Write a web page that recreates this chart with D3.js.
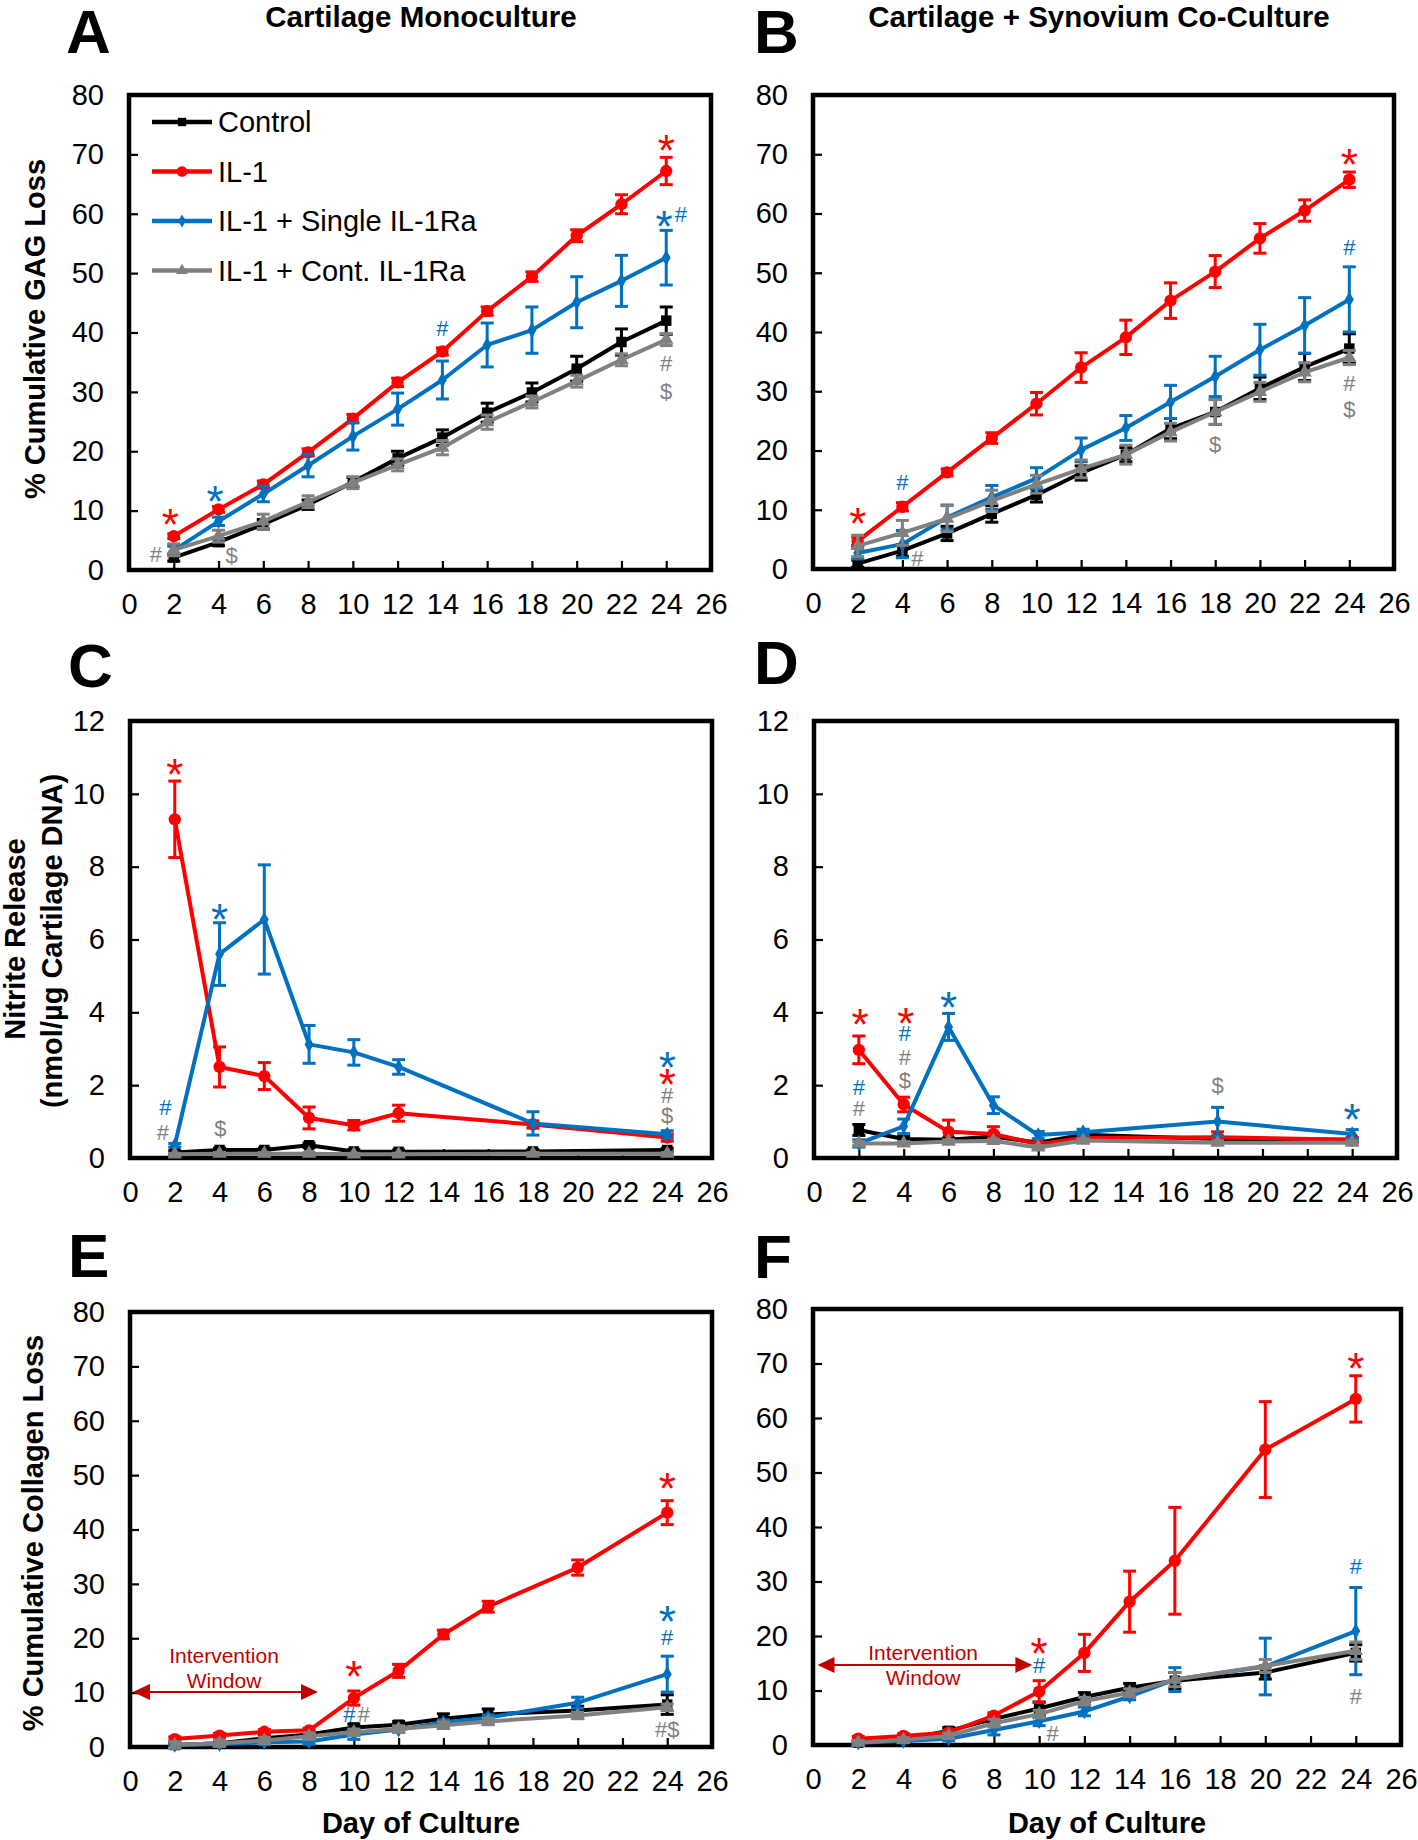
<!DOCTYPE html>
<html><head><meta charset="utf-8">
<script src="https://cdn.jsdelivr.net/npm/d3@7"></script>
<style>body{margin:0;background:#fff}</style>
</head><body><svg id="chart" width="1418" height="1840"></svg>
<script>
// ---------------- DATA ----------------
const seriesNames = ["Control", "IL-1", "IL-1 + Single IL-1Ra", "IL-1 + Cont. IL-1Ra"];
const seriesKeys = ["ctrl", "il1", "single", "cont"];
const xTicks = [0,2,4,6,8,10,12,14,16,18,20,22,24,26];
const yTicksPct = [0,10,20,30,40,50,60,70,80];
const yTicksNitrite = [0,2,4,6,8,10,12];

const daysGAG = [2,4,6,8,10,12,14,16,18,20,22,24];
const daysNitrite = [2,4,6,8,10,12,18,24];
const daysCollagen = [2,4,6,8,10,12,14,16,20,24];

// A: GAG loss, cartilage monoculture
const ctrlA = [2.1,4.7,7.7,11.0,14.8,18.8,22.3,26.5,29.9,33.9,38.4,42.0];
const ctrlAErr = [0.6,0.6,0.8,0.8,0.8,1.2,1.3,1.6,1.6,2.1,2.2,2.3];
const il1A = [5.7,10.2,14.4,19.8,25.5,31.6,36.8,43.6,49.4,56.3,61.6,67.2];
const il1AErr = [0.4,0.5,0.6,0.6,0.7,0.7,0.6,0.7,0.8,1.0,1.6,2.3];
const singleA = [3.3,8.2,12.8,17.6,22.5,27.1,32.0,37.9,40.4,45.1,48.7,52.6];
const singleAErr = [0.7,0.7,1.3,1.9,2.3,2.7,3.2,3.7,3.9,4.3,4.3,4.6];
const contA = [3.4,5.7,8.2,11.5,14.7,17.7,20.6,24.9,28.3,31.8,35.4,38.8];
const contAErr = [1.0,1.0,1.2,1.0,1.0,1.0,1.2,1.2,1.0,1.0,1.0,1.0];

// B: GAG loss, co-culture
const ctrlB = [0.9,3.1,6.0,9.3,12.5,16.2,19.3,23.7,26.5,30.5,34.1,37.2];
const ctrlBErr = [0.6,1.0,1.2,1.4,1.2,1.2,1.2,1.7,2.1,1.9,2.3,2.5];
const il1B = [4.7,10.5,16.3,22.1,27.9,34.0,39.1,45.3,50.2,55.8,60.5,65.7];
const il1BErr = [0.7,0.7,0.6,0.9,1.9,2.5,2.9,3.0,2.7,2.5,1.8,1.3];
const singleB = [2.7,4.2,8.7,12.1,15.3,20.1,23.8,28.2,32.5,37.0,41.1,45.5];
const singleBErr = [1.0,2.3,2.1,2.0,1.8,2.0,2.1,2.8,3.4,4.3,4.7,5.5];
const contB = [3.9,6.1,8.5,11.5,14.3,16.9,19.3,23.1,26.5,29.9,33.2,35.7];
const contBErr = [1.8,2.1,2.2,1.8,1.5,1.5,1.6,1.5,2.1,1.6,1.6,1.2];

// C: nitrite, monoculture
const ctrlC = [0.15,0.22,0.22,0.35,0.18,0.17,0.18,0.22];
const ctrlCErr = [0.05,0.05,0.05,0.06,0.05,0.05,0.05,0.05];
const il1C = [9.3,2.5,2.25,1.1,0.9,1.23,0.92,0.56];
const il1CErr = [1.05,0.55,0.37,0.3,0.13,0.22,0.1,0.1];
const singleC = [0.35,5.6,6.55,3.12,2.9,2.5,0.95,0.65];
const singleCErr = [0.05,0.86,1.5,0.52,0.35,0.2,0.32,0.1];
const contC = [0.1,0.12,0.12,0.12,0.1,0.1,0.12,0.12];
const contCErr = [0.03,0.03,0.03,0.03,0.03,0.03,0.03,0.03];

// D: nitrite, co-culture
const ctrlD = [0.77,0.52,0.5,0.59,0.42,0.64,0.52,0.5];
const ctrlDErr = [0.15,0.08,0.05,0.08,0.05,0.05,0.05,0.05];
const il1D = [2.97,1.47,0.72,0.66,0.38,0.55,0.57,0.5];
const il1DErr = [0.38,0.2,0.32,0.2,0.05,0.05,0.15,0.05];
const singleD = [0.4,0.87,3.6,1.45,0.63,0.71,1.0,0.66];
const singleDErr = [0.1,0.2,0.37,0.23,0.1,0.08,0.39,0.12];
const contD = [0.4,0.4,0.45,0.47,0.29,0.48,0.42,0.42];
const contDErr = [0.05,0.05,0.05,0.05,0.05,0.05,0.05,0.05];

// E: collagen loss, monoculture
const ctrlE = [0.36,0.7,1.6,2.3,3.6,4.1,5.2,6.0,6.7,7.8];
const ctrlEErr = [0.4,0.4,0.5,0.5,0.6,0.6,0.9,1.0,0.8,1.8];
const il1E = [1.46,2.1,2.8,3.06,9.0,14.0,20.7,25.8,33.0,43.1];
const il1EErr = [0.4,0.4,0.4,0.4,1.3,1.2,0.8,1.0,1.4,2.2];
const singleE = [0.36,0.5,0.87,1.0,2.3,3.2,4.5,5.4,8.15,13.4];
const singleEErr = [0.3,0.3,0.4,0.5,0.9,0.5,0.5,0.5,1.0,3.3];
const contE = [0.36,0.7,1.2,2.0,2.7,3.3,4.0,4.7,5.8,7.3];
const contEErr = [0.6,0.6,0.6,0.6,0.6,0.6,0.6,0.6,0.6,0.6];

// F: collagen loss, co-culture
const ctrlF = [0.43,0.94,2.6,4.8,6.7,8.8,10.5,11.8,13.3,16.9];
const ctrlFErr = [0.4,0.4,0.6,0.6,1.2,0.8,0.8,1.5,1.2,1.5];
const il1F = [1.16,1.67,2.3,5.4,9.8,16.9,26.3,33.8,54.2,63.5];
const il1FErr = [0.4,0.4,0.4,0.5,2.0,3.4,5.6,9.8,8.8,4.25];
const singleF = [0.43,0.72,1.16,2.75,4.35,6.16,8.9,12.0,14.4,20.9];
const singleFErr = [0.3,0.3,0.4,0.9,0.8,0.8,0.6,2.2,5.2,8.0];
const contF = [0.43,0.94,1.67,4.0,5.66,8.05,9.6,12.0,14.5,17.3];
const contFErr = [0.4,0.4,0.5,0.7,0.7,0.7,0.7,1.3,1.2,1.6];

// significance annotations: [day, value, symbol, series]
const annA = [[1.85,9.35,"*","il1"],[3.85,13.3,"*","single"],[1.2,2.6,"#","cont"],[4.58,2.45,"$","cont"],
  [14,40.8,"#","single"],[24,72.4,"*","il1"],[23.9,59.5,"*","single"],[24.65,60.0,"#","single"],
  [24,34.8,"#","cont"],[24,30.1,"$","cont"]];
const annB = [[2,9.3,"*","il1"],[4,14.7,"#","single"],[4.67,1.9,"#","cont"],[18,21.0,"$","cont"],
  [24,70.0,"*","il1"],[24,54.3,"#","single"],[24,31.3,"#","cont"],[24,27.0,"$","cont"]];
const annC = [[2,10.8,"*","il1"],[1.58,1.4,"#","single"],[1.47,0.71,"#","cont"],[4.04,0.82,"$","cont"],
  [4,6.83,"*","single"],[24,2.77,"*","single"],[24,2.28,"*","il1"],[24,1.73,"#","cont"],[24,1.18,"$","cont"]];
const annD = [[2.05,3.93,"*","il1"],[2,1.95,"#","single"],[2,1.37,"#","cont"],[4.1,3.98,"*","il1"],
  [4.05,3.43,"#","single"],[4.05,2.77,"#","cont"],[4.05,2.14,"$","cont"],[6,4.42,"*","single"],
  [18,2.0,"$","cont"],[24,1.32,"*","single"]];
const annE = [[10,14.9,"*","il1"],[9.8,6.1,"#","single"],[10.45,6.1,"#","cont"],[24,49.3,"*","il1"],
  [24,25.0,"*","single"],[24,20.2,"#","single"],[24,3.3,"#$","cont"]];
const annF = [[10,18.7,"*","il1"],[10,14.7,"#","single"],[10.6,2.2,"#","cont"],[24,71.0,"*","il1"],
  [24,32.8,"#","single"],[24,9.0,"#","cont"]];

// intervention window: [startDay, endDay, arrowValue, textDay, line1Value, line2Value]
const windowE = [0.13, 8.4, 10.1, 4.2, 16.9, 12.3];
const windowF = [0.2, 9.7, 14.7, 4.87, 16.9, 12.4];
const windowText = ["Intervention", "Window"];

const titles = ["Cartilage Monoculture", "Cartilage + Synovium Co-Culture"];
const yLabelGAG = "% Cumulative GAG Loss";
const yLabelNitrite = ["Nitrite Release", "(nmol/\u00b5g Cartilage DNA)"];
const yLabelCollagen = "% Cumulative Collagen Loss";
const xLabel = "Day of Culture";

// ---------------- STYLE / LAYOUT ----------------
const FONT = "'Liberation Sans', Arial, Helvetica, sans-serif";
const colors = {ctrl:"#000000", il1:"#ff0000", single:"#0070c0", cont:"#808080"};
const winColor = "#c00000";
const svg = d3.select("#chart");
svg.append("rect").attr("width",1418).attr("height",1840).attr("fill","#fff");

const symbols = {
  ctrl: d3.symbol().type(d3.symbolSquare).size(110),
  il1: d3.symbol().type(d3.symbolCircle).size(120),
  single: d3.symbol().type(d3.symbolDiamond).size(70),
  cont: d3.symbol().type(d3.symbolTriangle).size(90)
};

function mk(vals, errs){ return {vals, errs}; }

const panels = [
  {letter:"A", lx:66, ly:53, x0:129, x1:711, top:95, bot:570, yMax:80, yTicks:yTicksPct, days:daysGAG,
   s:{ctrl:mk(ctrlA,ctrlAErr), il1:mk(il1A,il1AErr), single:mk(singleA,singleAErr), cont:mk(contA,contAErr)}, ann:annA},
  {letter:"B", lx:754, ly:53, x0:813, x1:1394, top:95, bot:569, yMax:80, yTicks:yTicksPct, days:daysGAG,
   s:{ctrl:mk(ctrlB,ctrlBErr), il1:mk(il1B,il1BErr), single:mk(singleB,singleBErr), cont:mk(contB,contBErr)}, ann:annB},
  {letter:"C", lx:68, ly:687, x0:130, x1:712, top:721, bot:1158, yMax:12, yTicks:yTicksNitrite, days:daysNitrite,
   s:{ctrl:mk(ctrlC,ctrlCErr), il1:mk(il1C,il1CErr), single:mk(singleC,singleCErr), cont:mk(contC,contCErr)}, ann:annC},
  {letter:"D", lx:754, ly:684, x0:814, x1:1397, top:721, bot:1158, yMax:12, yTicks:yTicksNitrite, days:daysNitrite,
   s:{ctrl:mk(ctrlD,ctrlDErr), il1:mk(il1D,il1DErr), single:mk(singleD,singleDErr), cont:mk(contD,contDErr)}, ann:annD},
  {letter:"E", lx:68, ly:1277, x0:130, x1:712, top:1312, bot:1747, yMax:80, yTicks:yTicksPct, days:daysCollagen,
   s:{ctrl:mk(ctrlE,ctrlEErr), il1:mk(il1E,il1EErr), single:mk(singleE,singleEErr), cont:mk(contE,contEErr)}, ann:annE, win:windowE, xlab:true},
  {letter:"F", lx:754, ly:1278, x0:813, x1:1401, top:1309, bot:1745, yMax:80, yTicks:yTicksPct, days:daysCollagen,
   s:{ctrl:mk(ctrlF,ctrlFErr), il1:mk(il1F,il1FErr), single:mk(singleF,singleFErr), cont:mk(contF,contFErr)}, ann:annF, win:windowF, xlab:true}
];

panels.forEach(p => {
  const x = d3.scaleLinear().domain([0,26]).range([p.x0,p.x1]);
  const y = d3.scaleLinear().domain([0,p.yMax]).range([p.bot,p.top]);
  const g = svg.append("g");

  // axes
  const ax = g.append("g").attr("transform",`translate(0,${p.bot})`)
    .call(d3.axisBottom(x).tickValues(xTicks).tickSize(-9).tickPadding(23).tickFormat(d3.format("d")));
  const ay = g.append("g").attr("transform",`translate(${p.x0},0)`)
    .call(d3.axisLeft(y).tickValues(p.yTicks).tickSize(-9).tickPadding(25).tickFormat(d3.format("d")));
  [ax,ay].forEach(a=>{
    a.select(".domain").remove();
    a.selectAll(".tick line").attr("stroke","#000").attr("stroke-width",2.2);
    a.selectAll(".tick text").attr("font-family",FONT).attr("font-size",29).attr("fill","#000");
  });

  // frame
  g.append("rect").attr("x",p.x0).attr("y",p.top).attr("width",p.x1-p.x0).attr("height",p.bot-p.top)
    .attr("fill","none").attr("stroke","#000").attr("stroke-width",4.5);

  // series
  seriesKeys.forEach(k => {
    const sd = p.s[k];
    const pts = p.days.map((d,i)=>({d, v:sd.vals[i], e:sd.errs[i]}));
    const sg = g.append("g");
    pts.forEach(pt=>{
      const eg = sg.append("g").attr("stroke",colors[k]).attr("stroke-width",3);
      eg.append("line").attr("x1",x(pt.d)).attr("x2",x(pt.d)).attr("y1",y(pt.v-pt.e)).attr("y2",y(pt.v+pt.e));
      eg.append("line").attr("x1",x(pt.d)-6.5).attr("x2",x(pt.d)+6.5).attr("y1",y(pt.v-pt.e)).attr("y2",y(pt.v-pt.e));
      eg.append("line").attr("x1",x(pt.d)-6.5).attr("x2",x(pt.d)+6.5).attr("y1",y(pt.v+pt.e)).attr("y2",y(pt.v+pt.e));
    });
    sg.append("path").datum(pts)
      .attr("d", d3.line().x(d=>x(d.d)).y(d=>y(d.v)))
      .attr("fill","none").attr("stroke",colors[k]).attr("stroke-width",4).attr("stroke-linejoin","round");
    sg.selectAll("path.m").data(pts).enter().append("path").attr("class","m")
      .attr("d",symbols[k]).attr("transform",d=>`translate(${x(d.d)},${y(d.v)})`)
      .attr("fill",colors[k]);
  });

  // annotations
  p.ann.forEach(a=>{
    const star = a[2]==="*";
    const fs = star ? 44 : 22;
    const off = star ? 0.58*fs : 0.36*fs;
    g.append("text").attr("x",x(a[0])).attr("y",y(a[1])+off)
      .attr("text-anchor","middle").attr("font-family",FONT).attr("font-size",fs)
      .attr("fill",colors[a[3]]).text(a[2]);
  });

  // intervention window
  if (p.win){
    const [s,e,v,td,t1,t2] = p.win;
    const yy = y(v), xs = x(s), xe = x(e);
    g.append("line").attr("x1",xs+10).attr("x2",xe-10).attr("y1",yy).attr("y2",yy)
      .attr("stroke",winColor).attr("stroke-width",2);
    g.append("path").attr("d",`M${xs},${yy}L${xs+17},${yy-8}L${xs+17},${yy+8}Z`).attr("fill",winColor);
    g.append("path").attr("d",`M${xe},${yy}L${xe-17},${yy-8}L${xe-17},${yy+8}Z`).attr("fill",winColor);
    [t1,t2].forEach((tv,i)=>{
      g.append("text").attr("x",x(td)).attr("y",y(tv)+7.5).attr("text-anchor","middle")
        .attr("font-family",FONT).attr("font-size",21).attr("fill",winColor).text(windowText[i]);
    });
  }

  // panel letter
  g.append("text").attr("x",p.lx).attr("y",p.ly).attr("font-family",FONT).attr("font-weight","bold")
    .attr("font-size",62).attr("fill","#000").text(p.letter);

  if (p.xlab){
    g.append("text").attr("x",(p.x0+p.x1)/2).attr("y",1833).attr("text-anchor","middle")
      .attr("font-family",FONT).attr("font-weight","bold").attr("font-size",29).text(xLabel);
  }
});

// titles
svg.append("text").attr("x",421).attr("y",27).attr("text-anchor","middle").attr("font-family",FONT)
  .attr("font-weight","bold").attr("font-size",29.5).text(titles[0]);
svg.append("text").attr("x",1099).attr("y",27).attr("text-anchor","middle").attr("font-family",FONT)
  .attr("font-weight","bold").attr("font-size",29.5).text(titles[1]);

// y labels
function yLab(cx, cy, t){
  svg.append("text").attr("transform",`translate(${cx},${cy}) rotate(-90)`).attr("text-anchor","middle")
    .attr("dominant-baseline","central").attr("font-family",FONT).attr("font-weight","bold")
    .attr("font-size",29).text(t);
}
yLab(35, 329, yLabelGAG);
yLab(15, 939, yLabelNitrite[0]);
yLab(52, 941, yLabelNitrite[1]);
yLab(33, 1533, yLabelCollagen);

// legend (panel A)
seriesKeys.forEach((k,i)=>{
  const yy = 122 + i*49.5;
  const lg = svg.append("g");
  lg.append("line").attr("x1",152).attr("x2",212).attr("y1",yy).attr("y2",yy)
    .attr("stroke",colors[k]).attr("stroke-width",4.5);
  lg.append("path").attr("d",d3.symbol().type([d3.symbolSquare,d3.symbolCircle,d3.symbolDiamond,d3.symbolTriangle][i]).size([70,90,50,60][i]))
    .attr("transform",`translate(182,${yy})`).attr("fill",colors[k]);
  lg.append("text").attr("x",218).attr("y",yy).attr("dominant-baseline","central")
    .attr("font-family",FONT).attr("font-size",29).attr("fill","#000").text(seriesNames[i]);
});
</script></body></html>
